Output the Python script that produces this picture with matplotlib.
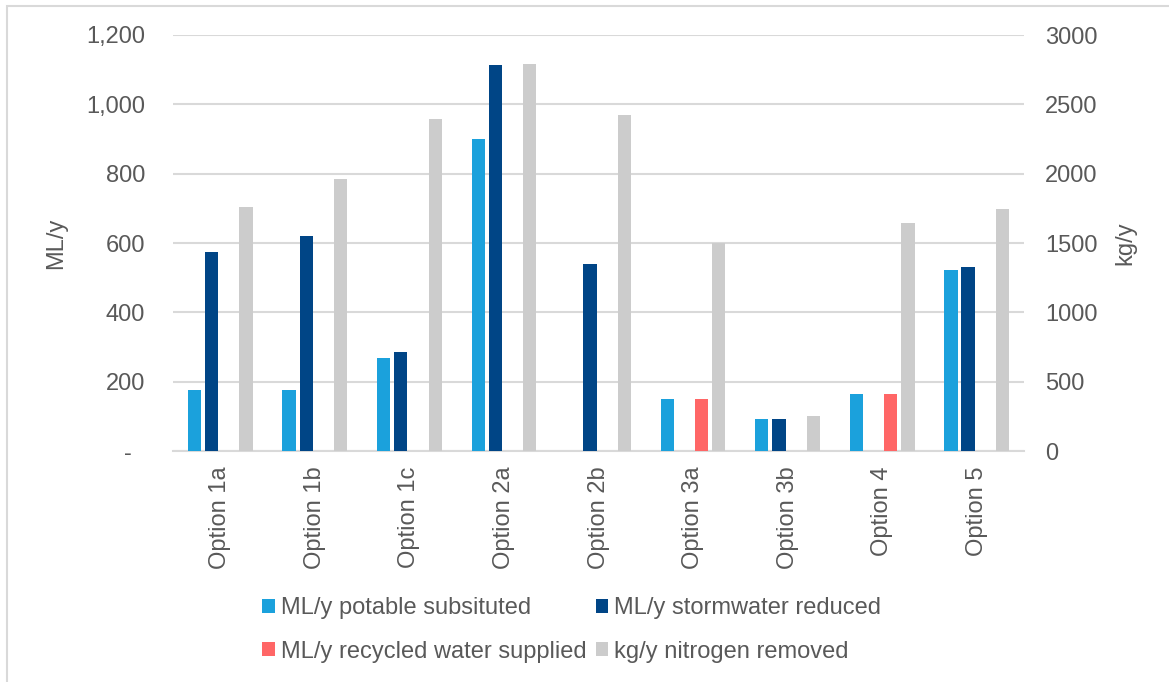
import matplotlib
matplotlib.use('Agg')
import matplotlib.pyplot as plt
from matplotlib.patches import Patch, Rectangle
from matplotlib.ticker import FuncFormatter
import numpy as np

plt.rcParams['font.family'] = ['Liberation Sans', 'DejaVu Sans']

# 各方案数据
categories = ['Option 1a', 'Option 1b', 'Option 1c', 'Option 2a', 'Option 2b',
              'Option 3a', 'Option 3b', 'Option 4', 'Option 5']
potable = [175, 175, 268, 900, 0, 150, 92, 165, 522]
stormwater = [574, 620, 286, 1113, 539, 0, 92, 0, 531]
recycled = [0, 0, 0, 0, 0, 150, 0, 165, 0]
nitrogen = [1757, 1963, 2392, 2790, 2423, 1500, 250, 1646, 1748]

names = ['ML/y potable subsituted', 'ML/y stormwater reduced',
         'ML/y recycled water supplied', 'kg/y nitrogen removed']
colors = ['#1BA1DC', '#004586', '#FF6666', '#CCCCCC']

TEXT = '#595959'
GRID = '#D9D9D9'
FS = 17

W, H = 1169, 682
fig = plt.figure(figsize=(W / 100, H / 100), dpi=100)
ax = fig.add_axes([173 / W, 1 - 451 / H, (1024 - 173) / W, (451 - 35) / H])
ax2 = ax.twinx()

x = np.arange(len(categories))
pitch = 0.182
width = 0.14
ax.bar(x - 1.5 * pitch, potable, width, color=colors[0], zorder=3)
ax.bar(x - 0.5 * pitch, stormwater, width, color=colors[1], zorder=3)
ax.bar(x + 0.5 * pitch, recycled, width, color=colors[2], zorder=3)
ax2.bar(x + 1.5 * pitch, nitrogen, width, color=colors[3], zorder=3)

ax.set_xlim(-0.5, len(categories) - 0.5)
ax.set_ylim(0, 1200)
ax.set_yticks(np.arange(0, 1201, 200))
ax.yaxis.set_major_formatter(FuncFormatter(lambda v, p: '-  ' if v == 0 else f'{int(v):,}'))
ax2.set_ylim(0, 3000)
ax2.set_yticks(np.arange(0, 3001, 500))

ax.grid(axis='y', color=GRID, linewidth=1.5, zorder=0)
ax.set_axisbelow(True)
for a in (ax, ax2):
    for s in a.spines.values():
        s.set_visible(False)
    a.tick_params(length=0, labelsize=FS, labelcolor=TEXT)
ax.spines['bottom'].set_visible(True)
ax.spines['bottom'].set_color(GRID)
ax.spines['bottom'].set_linewidth(1.5)

ax.set_xticks(x)
ax.set_xticklabels(categories, rotation=90)
ax.tick_params(axis='x', pad=11)
ax.tick_params(axis='y', pad=20)
ax2.tick_params(axis='y', pad=15)

ax.set_ylabel('ML/y', fontsize=FS, color=TEXT, labelpad=14)
ax2.set_ylabel('kg/y', fontsize=FS, color=TEXT, labelpad=12)

# 图例：两行两列
handles = [Patch(facecolor=c, edgecolor='none') for c in colors]
order = [0, 2, 1, 3]
fig.legend([handles[i] for i in order], [names[i] for i in order],
           loc='upper left', bbox_to_anchor=(262 / W, 1 - 597 / H),
           ncol=2, frameon=False, fontsize=FS, labelcolor=TEXT,
           handlelength=0.54, handleheight=0.54, handletextpad=0.25,
           columnspacing=0.4, labelspacing=0.92, borderpad=0, borderaxespad=0)

# 外框
fig.patches.append(Rectangle((7 / W, -0.1), 1.2, 1 - 6 / H + 0.1,
                             transform=fig.transFigure, fill=False,
                             edgecolor=GRID, linewidth=1.5))

fig.savefig('out.png', dpi=100)
